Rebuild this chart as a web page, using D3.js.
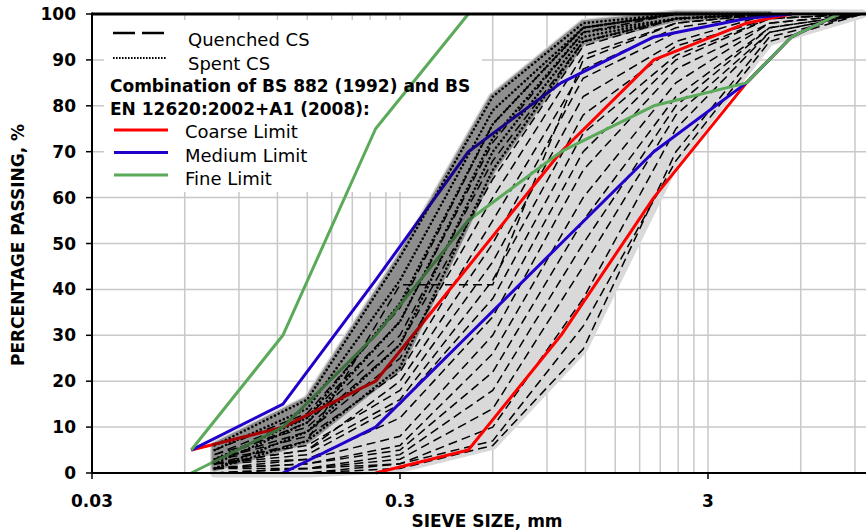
<!DOCTYPE html>
<html>
<head>
<meta charset="utf-8">
<script src="https://cdn.jsdelivr.net/npm/d3@7"></script>
<style>
  body { margin: 0; background: #fff; }
  text { font-family: "DejaVu Sans", sans-serif; }
</style>
</head>
<body>
<svg id="chart" width="866" height="531"></svg>
<script>
// Limit curves (BS 882 / EN 12620), sieve sizes in mm
const limitSieves = [0.063, 0.125, 0.25, 0.5, 1, 2, 4, 5.6, 8];
const coarseLower = [null, null, 0, 5, 30, 60, 85, 95, 100];
const coarseUpper = [5, 10, 20, 45, 70, 90, 98, 100, null];
const mediumLower = [null, 0, 10, 30, 50, 70, 85, 95, 100];
const mediumUpper = [5, 15, 42, 70, 85, 95, 99, 100, null];
const fineLower = [0, 10, 30, 55, 70, 80, 85, 95, 100];
const fineUpper = [5, 30, 75, 100, null, null, null, null, null];

// Test sieves (mm) for the CS samples
const testSieves = [0.075, 0.15, 0.3, 0.6, 1.18, 2.36, 4.75, 9.5];

// Quenched CS gradings (% passing)
const quenched = [
  [0, 0, 1, 6, 27, 70, 95, 100],
  [0, 0, 2, 7, 32, 68, 94, 100],
  [0, 1, 2, 10, 38, 75, 96, 100],
  [1, 1, 3, 14, 45, 78, 96, 100],
  [0, 1, 4, 18, 50, 80, 97, 100],
  [1, 2, 5, 22, 55, 82, 97, 100],
  [1, 2, 6, 26, 60, 85, 98, 100],
  [2, 3, 8, 30, 66, 88, 98, 100],
  [1, 3, 12, 34, 70, 90, 99, 100],
  [2, 4, 15, 38, 74, 91, 99, 100],
  [2, 5, 16, 42, 78, 93, 99, 100],
  [3, 6, 18, 46, 82, 94, 100, 100],
  [2, 5, 20, 50, 86, 96, 100, 100],
  [3, 8, 22, 55, 88, 97, 100, 100],
  [2, 7, 41, 41, 90, 98, 100, 100],
  [3, 9, 25, 60, 91, 98, 100, 100],
  [4, 10, 28, 64, 93, 99, 100, 100],
  [3, 11, 30, 68, 94, 99, 100, 100],
  [4, 12, 33, 72, 96, 100, 100, 100],
  [5, 13, 36, 76, 97, 100, 100, 100]
];

// Spent CS gradings (% passing)
const spent = [
  [6, 16, 47, 82, 98, 100, 100],
  [5, 14, 42, 79, 97, 100, 100],
  [3, 12, 37, 76, 97, 100, 100],
  [2, 11, 33, 73, 96, 99, 100],
  [1, 9, 28, 70, 95, 99, 100],
  [1, 7, 23, 66, 94, 99, 100]
];

const xTicks = [0.03, 0.3, 3];
const yTicks = [0, 10, 20, 30, 40, 50, 60, 70, 80, 90, 100];

const plotLeft = 92, plotRight = 866, plotTop = 14, plotBottom = 473;

const svg = d3.select('#chart');

// Scales: one decade = 308 px
const x = d3.scaleLog().domain([0.03, 3]).range([plotLeft, 708]);
const y = d3.scaleLinear().domain([0, 100]).range([plotBottom, plotTop]);

// Vertical gridlines: multiples of the base in every decade
const xGrid = [];
[0.03, 0.3, 3].forEach(base => {
  for (let k = 1; k <= 9; k++) {
    const v = +(base * k).toFixed(4);
    if (v > 0.03 && x(v) < plotRight) xGrid.push(v);
  }
});

const grid = svg.append('g');
grid.selectAll('.vg')
  .data(xGrid)
  .enter().append('line')
  .attr('x1', d => x(d)).attr('x2', d => x(d))
  .attr('y1', plotTop).attr('y2', plotBottom)
  .attr('stroke', '#c8c8c8').attr('stroke-width', 1.5);
grid.selectAll('.hg')
  .data(yTicks.filter(d => d > 0 && d < 100))
  .enter().append('line')
  .attr('x1', plotLeft).attr('x2', plotRight)
  .attr('y1', d => y(d)).attr('y2', d => y(d))
  .attr('stroke', '#c8c8c8').attr('stroke-width', 1.5);

// Legend background
svg.append('rect')
  .attr('x', 104).attr('y', 20).attr('width', 378).attr('height', 172)
  .attr('fill', '#fff');

// Envelope of the gradings
function envelope(curves, sieves) {
  return sieves.map((s, i) => ({
    s: s,
    lo: d3.min(curves, c => c[i]),
    hi: d3.max(curves, c => c[i])
  }));
}
const envArea = d3.area()
  .x(d => x(d.s))
  .y0(d => y(d.lo))
  .y1(d => y(d.hi));

const spentSieves = testSieves.slice(0, spent[0].length);
const allEnv = envelope(quenched.concat(spent.map(c => c.concat([100]))), testSieves);

svg.append('path')
  .datum(allEnv)
  .attr('d', envArea)
  .attr('fill', '#d9d9d9')
  .attr('stroke', '#d9d9d9')
  .attr('stroke-width', 9)
  .attr('stroke-linejoin', 'round');

// Grading curves
const curve = d3.line()
  .x(d => x(d[0]))
  .y(d => y(d[1]));

svg.selectAll('.quenched')
  .data(quenched)
  .enter().append('path')
  .attr('class', 'quenched')
  .attr('d', c => curve(c.map((v, i) => [testSieves[i], v])))
  .attr('fill', 'none')
  .attr('stroke', '#000')
  .attr('stroke-width', 1.5)
  .attr('stroke-dasharray', '9,5');

svg.selectAll('.spent')
  .data(spent)
  .enter().append('path')
  .attr('class', 'spent')
  .attr('d', c => curve(c.map((v, i) => [spentSieves[i], v])))
  .attr('fill', 'none')
  .attr('stroke', '#000')
  .attr('stroke-width', 2.6)
  .attr('stroke-linecap', 'round')
  .attr('stroke-dasharray', '0.01,4.2');

// Limit lines
const limitLine = d3.line()
  .defined(d => d[1] != null)
  .x(d => x(d[0]))
  .y(d => y(d[1]));

const limits = [
  { values: coarseLower, color: '#ff0000' },
  { values: coarseUpper, color: '#ff0000' },
  { values: mediumLower, color: '#2200cc' },
  { values: mediumUpper, color: '#2200cc' },
  { values: fineLower, color: '#5aaa5a' },
  { values: fineUpper, color: '#5aaa5a' }
];
svg.selectAll('.limit')
  .data(limits)
  .enter().append('path')
  .attr('class', 'limit')
  .attr('d', l => limitLine(l.values.map((v, i) => [limitSieves[i], v])))
  .attr('fill', 'none')
  .attr('stroke', l => l.color)
  .attr('stroke-width', 3)
  .attr('stroke-linejoin', 'round');

// Spent envelope, translucent dark grey over the lines
const spentEnv = envelope(spent, spentSieves);
svg.append('g')
  .attr('opacity', 0.34)
  .append('path')
  .datum(spentEnv)
  .attr('d', envArea)
  .attr('fill', '#000')
  .attr('stroke', '#000')
  .attr('stroke-width', 6)
  .attr('stroke-linejoin', 'round');

// Axes
svg.append('line')
  .attr('x1', plotLeft).attr('x2', plotRight).attr('y1', plotTop).attr('y2', plotTop)
  .attr('stroke', '#000').attr('stroke-width', 3);
svg.append('line')
  .attr('x1', plotLeft).attr('x2', plotRight).attr('y1', plotBottom).attr('y2', plotBottom)
  .attr('stroke', '#000').attr('stroke-width', 2);
svg.append('line')
  .attr('x1', plotLeft).attr('x2', plotLeft).attr('y1', plotTop - 1.5).attr('y2', plotBottom + 1)
  .attr('stroke', '#000').attr('stroke-width', 2);

const yAxis = svg.append('g');
yAxis.selectAll('line')
  .data(yTicks)
  .enter().append('line')
  .attr('x1', plotLeft - 6).attr('x2', plotLeft)
  .attr('y1', d => y(d)).attr('y2', d => y(d))
  .attr('stroke', '#000').attr('stroke-width', 1.5);
yAxis.selectAll('text')
  .data(yTicks)
  .enter().append('text')
  .attr('x', 76).attr('y', d => y(d) + 6)
  .attr('text-anchor', 'end')
  .attr('font-size', 17).attr('font-weight', 'bold')
  .text(d => d);

const xAxis = svg.append('g');
xAxis.selectAll('line')
  .data(xTicks)
  .enter().append('line')
  .attr('x1', d => x(d)).attr('x2', d => x(d))
  .attr('y1', plotBottom).attr('y2', plotBottom + 6)
  .attr('stroke', '#000').attr('stroke-width', 1.5);
xAxis.selectAll('text')
  .data(xTicks)
  .enter().append('text')
  .attr('x', d => x(d)).attr('y', 507)
  .attr('text-anchor', 'middle')
  .attr('font-size', 17).attr('font-weight', 'bold')
  .text(d => d);

svg.append('text')
  .attr('x', 487).attr('y', 527)
  .attr('text-anchor', 'middle')
  .attr('font-size', 17).attr('font-weight', 'bold')
  .text('SIEVE SIZE, mm');

svg.append('text')
  .attr('transform', 'translate(24,245) rotate(-90)')
  .attr('text-anchor', 'middle')
  .attr('font-size', 17).attr('font-weight', 'bold')
  .text('PERCENTAGE PASSING, %');

// Legend
const legend = svg.append('g');
legend.append('line')
  .attr('x1', 113).attr('x2', 164).attr('y1', 33).attr('y2', 33)
  .attr('stroke', '#000').attr('stroke-width', 2.5)
  .attr('stroke-dasharray', '22,7');
legend.append('line')
  .attr('x1', 113).attr('x2', 167).attr('y1', 58).attr('y2', 58)
  .attr('stroke', '#000').attr('stroke-width', 1.8)
  .attr('stroke-dasharray', '1.6,1.4');
[
  { y: 130, color: '#ff0000' },
  { y: 152.5, color: '#2200cc' },
  { y: 175, color: '#5aaa5a' }
].forEach(s => {
  legend.append('line')
    .attr('x1', 114).attr('x2', 168).attr('y1', s.y).attr('y2', s.y)
    .attr('stroke', s.color).attr('stroke-width', 3);
});

const legendText = [
  { x: 188, y: 46, text: 'Quenched CS', bold: false },
  { x: 188, y: 70, text: 'Spent CS', bold: false },
  { x: 110, y: 91.5, text: 'Combination of BS 882 (1992) and BS', bold: true },
  { x: 110, y: 114.5, text: 'EN 12620:2002+A1 (2008):', bold: true },
  { x: 185, y: 138, text: 'Coarse Limit', bold: false },
  { x: 185, y: 161.5, text: 'Medium Limit', bold: false },
  { x: 185, y: 185, text: 'Fine Limit', bold: false }
];
legend.selectAll('text')
  .data(legendText)
  .enter().append('text')
  .attr('x', d => d.x).attr('y', d => d.y)
  .attr('font-size', d => d.bold ? 17 : 18)
  .attr('font-weight', d => d.bold ? 'bold' : 'normal')
  .text(d => d.text);
</script>
</body>
</html>
